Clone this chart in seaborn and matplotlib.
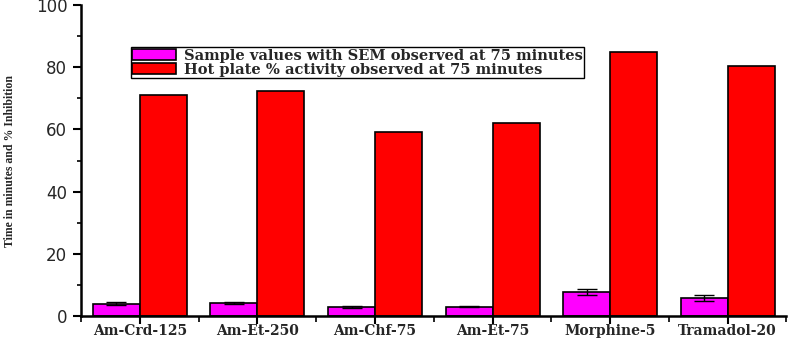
import pandas as pd
import matplotlib.pyplot as plt
import seaborn as sns
from matplotlib.ticker import MultipleLocator

# ================= DADOS =================
categories = ['Am-Crd-125', 'Am-Et-250', 'Am-Chf-75', 'Am-Et-75', 'Morphine-5', 'Tramadol-20']
sample_values = [4.0, 4.1, 2.9, 3.0, 7.7, 5.8]
sample_sem = [0.6, 0.3, 0.3, 0.2, 0.9, 0.9]
activity_values = [71.1, 72.4, 59.1, 62.1, 85.0, 80.3]
series_names = ['Sample values with SEM observed at 75 minutes',
                'Hot plate % activity observed at 75 minutes']

df = pd.DataFrame({
    'group': categories * 2,
    'value': sample_values + activity_values,
    'series': [series_names[0]] * len(categories) + [series_names[1]] * len(categories),
})

# ================= GRÁFICO =================
sns.set_theme(style="ticks")
fig = plt.figure(figsize=(7.88, 3.38), dpi=100)
ax = fig.add_axes([0.103, 0.065, 0.895, 0.92])

sns.barplot(data=df, x='group', y='value', hue='series', order=categories,
            hue_order=series_names, palette=['#ff00ff', '#ff0000'], saturation=1,
            edgecolor='black', linewidth=1.2, width=0.8, errorbar=None, ax=ax)

# barras de erro (SEM) sobre as barras magenta
magenta_bars = ax.patches[:len(categories)]
xs = [b.get_x() + b.get_width() / 2 for b in magenta_bars]
ax.errorbar(xs, sample_values, yerr=sample_sem, fmt='none', ecolor='black',
            elinewidth=1, capsize=7, capthick=1)

ax.set_ylim(0, 100)
ax.set_xlim(-0.5, len(categories) - 0.5)
ax.yaxis.set_major_locator(MultipleLocator(20))
ax.yaxis.set_minor_locator(MultipleLocator(10))
ax.xaxis.set_minor_locator(MultipleLocator(0.5))
ax.tick_params(axis='both', which='major', direction='out', length=6, width=1.5, color='black')
ax.tick_params(axis='both', which='minor', direction='out', length=3, width=1.2, color='black')
ax.tick_params(axis='x', which='minor', length=4)
ax.tick_params(axis='y', pad=4)
ax.tick_params(axis='x', pad=0)
for s in ['left', 'bottom']:
    ax.spines[s].set_linewidth(1.8)
    ax.spines[s].set_color('black')
sns.despine(ax=ax)

ax.set_xlabel('')
ax.set_ylabel('Time in minutes and % Inhibition', fontsize=8.5, fontweight='bold',
              family='Liberation Serif')
ax.yaxis.set_label_coords(-0.092, 0.497)
for lbl in ax.get_xticklabels():
    lbl.set_family('DejaVu Serif')
    lbl.set_fontweight('bold')
    lbl.set_fontsize(10)
for lbl in ax.get_yticklabels():
    lbl.set_family('DejaVu Sans')
    lbl.set_fontsize(12)

leg = ax.legend(loc='upper left', bbox_to_anchor=(0.0707, 0.865), frameon=True, fancybox=False,
                edgecolor='black', framealpha=1, borderpad=0.1, labelspacing=0.0,
                handlelength=3.0, handleheight=0.75, handletextpad=0.5, borderaxespad=0,
                prop={'family': 'DejaVu Serif', 'weight': 'bold', 'size': 10.5})
leg.get_frame().set_linewidth(1.0)

fig.savefig('out.png', dpi=100)
